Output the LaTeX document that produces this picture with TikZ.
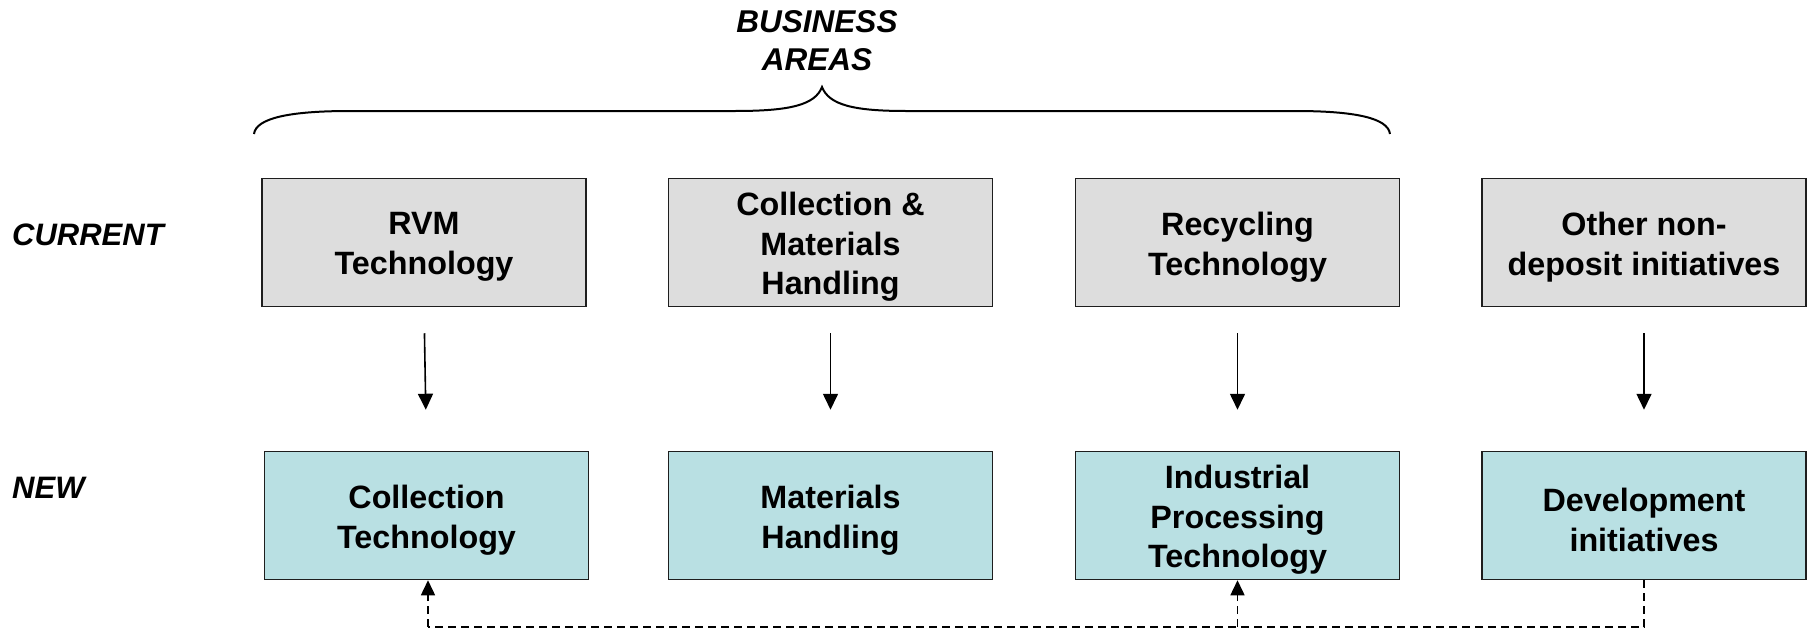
\documentclass[tikz,border=0pt]{standalone}
\usepackage{fontspec}
\setmainfont{Liberation Sans}
\usetikzlibrary{arrows.meta}

\definecolor{curfill}{HTML}{DDDDDD}
\definecolor{newfill}{HTML}{B9E0E3}
\definecolor{edge}{HTML}{1E1E1E}

\begin{document}
\begin{tikzpicture}[x=1pt, y=-1pt,
  boxtext/.style={inner sep=0pt, align=center, yshift=-4.5pt,
    font=\fontsize{32.3}{39.5}\selectfont\bfseries},
  area/.style={draw=edge, line width=1.5pt, minimum width=324pt, minimum height=128pt,
    inner sep=0pt, label={[boxtext]center:#1}},
  curbox/.style={area={#1}, fill=curfill},
  newbox/.style={area={#1}, fill=newfill},
  rowlabel/.style={anchor=west, inner sep=0pt, font=\fontsize{31}{38}\selectfont\bfseries\itshape},
  flow/.style={line width=1.6pt, -{Triangle[width=15pt,length=16pt]}, shorten <=26pt, shorten >=41pt},
  link/.style={line width=1.5pt, dash pattern=on 8pt off 5pt},
  linkarrow/.style={link, -{Triangle[width=14pt,length=15pt]}}
]
\useasboundingbox (0,0) rectangle (1810,632);

% heading and brace over the business areas
\node[align=center, inner sep=0pt, font=\fontsize{31.5}{38}\selectfont\bfseries\itshape]
  (head) at (817,41) {BUSINESS\\AREAS};
\draw[line width=2pt] (254,134) .. controls (256,118) and (290,111) .. (350,111)
  -- (735,111) .. controls (790,111) and (815,105) .. (822,87)
  .. controls (829,105) and (854,111) .. (906,111)
  -- (1295,111) .. controls (1355,111) and (1388,118) .. (1390,134);

% row labels
\node[rowlabel] (lcur) at (12,235) {CURRENT};
\node[rowlabel] (lnew) at (12,488) {NEW};

% current business areas
\node[curbox={RVM\\Technology}] (t1) at (424,242.5) {};
\node[curbox={Collection \&\\Materials\\Handling}] (t2) at (830.5,242.5) {};
\node[curbox={Recycling\\Technology}] (t3) at (1237.5,242.5) {};
\node[curbox={Other non-\\deposit initiatives}] (t4) at (1644,242.5) {};

% new business areas
\node[newbox={Collection\\Technology}] (b1) at (426.5,515.5) {};
\node[newbox={Materials\\Handling}] (b2) at (830.5,515.5) {};
\node[newbox={Industrial\\Processing\\Technology}] (b3) at (1237.5,515.5) {};
\node[newbox={Development\\initiatives}] (b4) at (1644,515.5) {};

% current -> new
\foreach \i in {1,2,3,4}
  \draw[flow] (t\i.south) -- (b\i.north);

% development initiatives feed back into the other new areas
\coordinate (run) at (0,627);
\draw[link] (b4.south) -- (b4.south |- run) -- ([xshift=1.5pt]b1.south |- run);
\draw[linkarrow] ([xshift=1.5pt]b1.south |- run) -- ([xshift=1.5pt]b1.south);
\draw[linkarrow] (b3.south |- run) -- (b3.south);
\end{tikzpicture}
\end{document}
